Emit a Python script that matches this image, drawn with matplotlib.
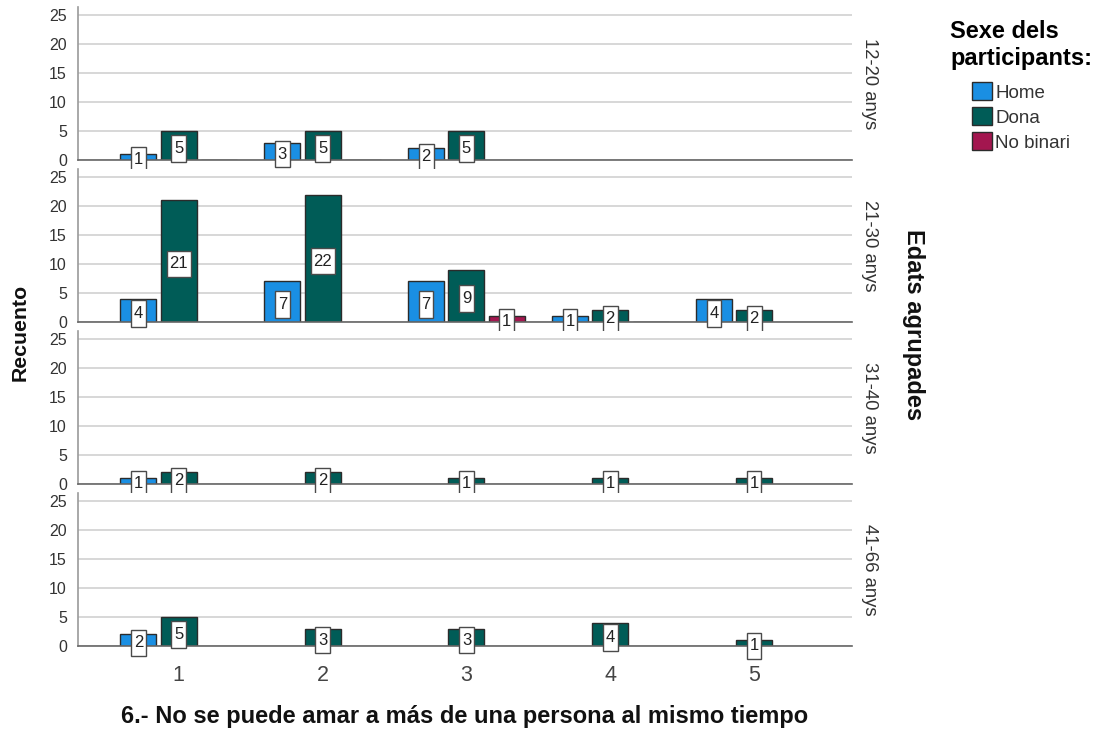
import numpy as np
import matplotlib
matplotlib.use("Agg")
import matplotlib.pyplot as plt
from matplotlib.path import Path
from matplotlib.patches import Patch

plt.rcParams['font.family'] = ['Liberation Sans', 'DejaVu Sans']

categories = [1, 2, 3, 4, 5]
age_groups = ["12-20 anys", "21-30 anys", "31-40 anys", "41-66 anys"]
series_names = ["Home", "Dona", "No binari"]
nan = np.nan
home = [
    [1, 3, 2, nan, nan],
    [4, 7, 7, 1, 4],
    [1, nan, nan, nan, nan],
    [2, nan, nan, nan, nan],
]
dona = [
    [5, 5, 5, nan, nan],
    [21, 22, 9, 2, 2],
    [2, 2, 1, 1, 1],
    [5, 3, 3, 4, 1],
]
no_binari = [
    [0, 0, nan, nan, nan],
    [nan, nan, 1, 0, nan],
    [nan, nan, nan, nan, nan],
    [nan, nan, nan, nan, nan],
]
yticks = [0, 5, 10, 15, 20, 25]
colors = ["#1a8fe3", "#005c57", "#a3164f"]
offsets = [-0.28, 0.0, 0.28]
bar_w = 0.25


def tallbox(x0, y0, width, height, mutation_size):
    px = 0.16 * mutation_size
    py_top = 0.35 * mutation_size
    py_bot = 0.35 * mutation_size
    a, b = x0 - px, y0 - py_bot
    c, d = x0 + width + px, y0 + height + py_top
    return Path([(a, b), (c, b), (c, d), (a, d), (a, b)], closed=True)


W, H = 1100, 731
fig = plt.figure(figsize=(11, 7.31), dpi=100)

left, right = 78, 852
panel_h = 153
tops = [7, 169, 331, 493]

data = [home, dona, no_binari]
x = np.array(categories, dtype=float)
axes = []
for p in range(4):
    ax = fig.add_axes([left / W, 1 - (tops[p] + panel_h) / H, (right - left) / W, panel_h / H])
    axes.append(ax)
    ax.set_xlim(0.3, 5.68)
    ax.set_ylim(0, 26.4)
    ax.set_yticks(yticks)
    ax.grid(axis='y', color='#d4d4d4', linewidth=1.3, zorder=0)
    ax.set_axisbelow(True)
    for s in ['top', 'right']:
        ax.spines[s].set_visible(False)
    ax.spines['left'].set_color('#9a9a9a')
    ax.spines['left'].set_linewidth(1.2)
    ax.spines['bottom'].set_color('#666666')
    ax.spines['bottom'].set_linewidth(1.2)
    ax.tick_params(axis='y', length=0, pad=8, labelsize=11.5, labelcolor='#333333')
    ax.tick_params(axis='x', length=0, pad=14, labelsize=15.5, labelcolor='#444444')
    ax.set_xticks(categories)
    if p < 3:
        ax.set_xticklabels([])
    for si in range(3):
        vals = np.array(data[si][p], dtype=float)
        mask = ~np.isnan(vals)
        xs = x[mask] + offsets[si]
        ax.bar(xs, vals[mask], width=bar_w, color=colors[si], edgecolor='#2b2b2b',
               linewidth=1.0, zorder=2)
        for xi, v in zip(xs, vals[mask]):
            if v > 0:
                ax.annotate(f"{int(v)}", (xi, v / 2), xytext=(0, -2), textcoords='offset points',
                            ha='center', va='center', fontsize=12, color='#222222',
                            annotation_clip=False, zorder=5,
                            bbox=dict(boxstyle=tallbox, fc='white', ec='#4a4a4a', lw=1.0))
    ax.text(1.023, 0.5, age_groups[p], rotation=-90, transform=ax.transAxes,
            ha='center', va='center', fontsize=13.3, color='#333333')

fig.text(20 / W, 1 - 332 / H, "Recuento", rotation=90, ha='center', va='center',
         fontsize=15.3, fontweight='bold', color='#111111')
fig.text(914 / W, 1 - 325 / H, "Edats agrupades", rotation=-90, ha='center', va='center',
         fontsize=17, fontweight='bold', color='#111111')
fig.text(465 / W, 1 - 716 / H, "6.- No se puede amar a más de una persona al mismo tiempo",
         ha='center', va='center', fontsize=17, fontweight='bold', color='#111111')

handles = [Patch(facecolor=c, edgecolor='#2b2b2b', linewidth=1.0) for c in colors]
leg = fig.legend(handles, series_names, title="Sexe dels\nparticipants:",
                 loc='upper center', bbox_to_anchor=(1021 / W, 1 - 7 / H),
                 frameon=False, fontsize=13.5, handlelength=1.1, handleheight=1.1,
                 handletextpad=0.15, labelspacing=0.3, borderpad=0.2,
                 title_fontproperties={'weight': 'bold', 'size': 17})
leg._legend_box.sep = 9
for t in leg.get_texts():
    t.set_color('#333333')

fig.savefig("out.png", dpi=100)
